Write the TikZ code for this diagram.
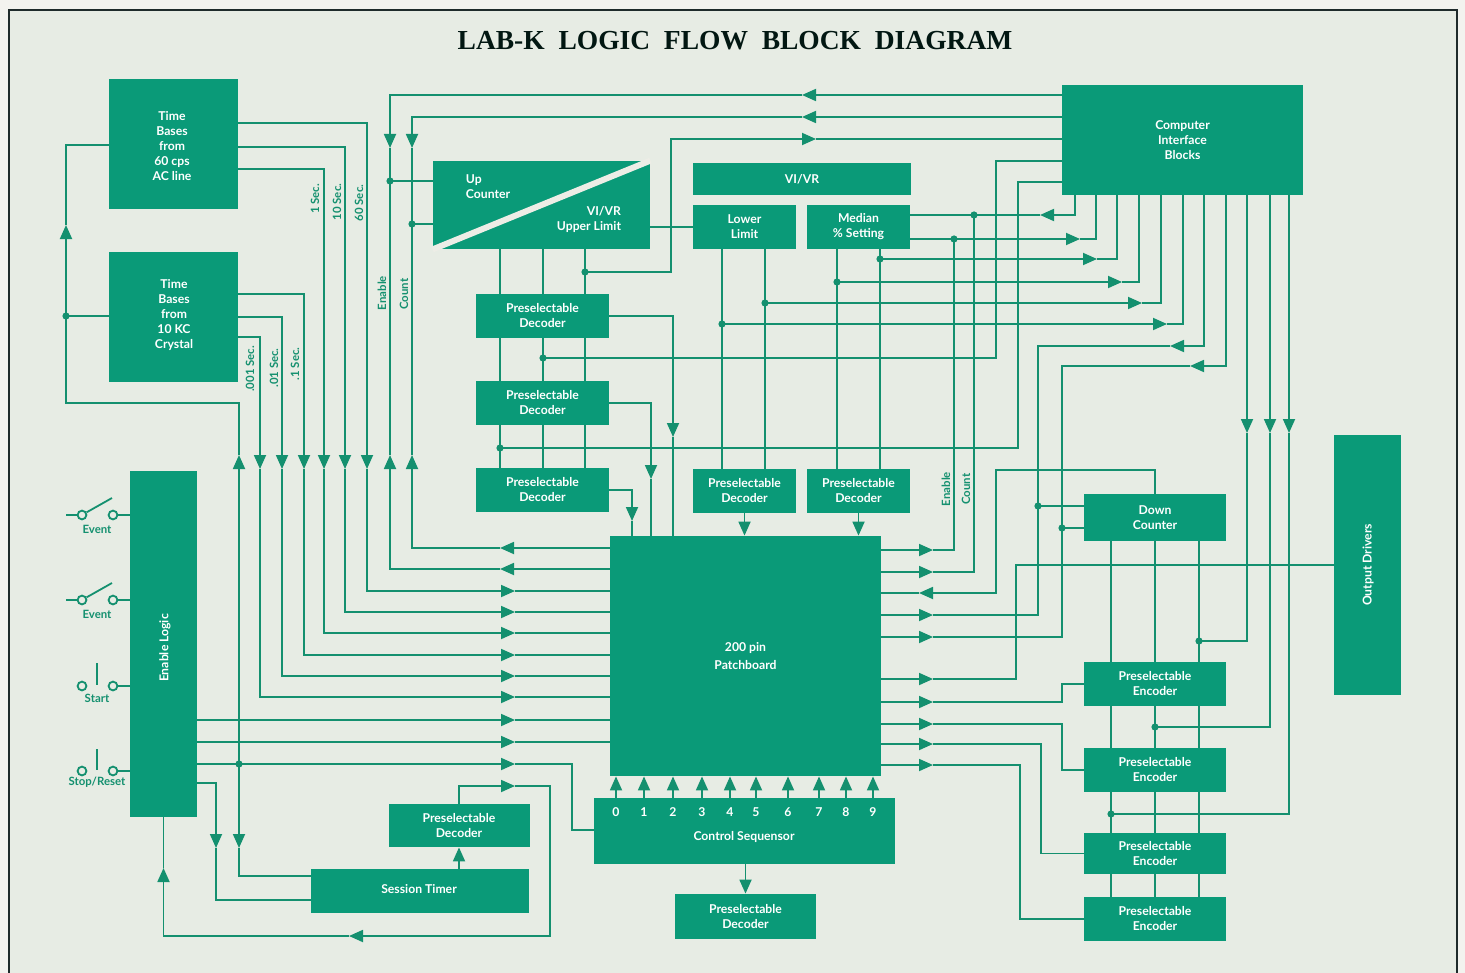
\documentclass[tikz,border=0pt]{standalone}
\usepackage{fontspec}
\usetikzlibrary{arrows.meta}
\newfontfamily\blockfont{Lato}
\newfontfamily\titlefont{Liberation Serif}
\definecolor{blockgreen}{HTML}{0A9A78}
\definecolor{wiregreen}{HTML}{14906F}
\definecolor{paper}{HTML}{E7ECE4}
\definecolor{margin}{HTML}{F3F3EF}
\definecolor{framedark}{HTML}{1F2B2B}
\definecolor{stripe}{HTML}{EDEDE6}
\tikzset{
  block/.style={fill=blockgreen, text=white, inner sep=0pt, align=center,
                font=\blockfont\bfseries\fontsize{6.1}{7.5}\selectfont},
  blocktext/.style={text=white, inner sep=0pt,
                font=\blockfont\bfseries\fontsize{6.1}{7.5}\selectfont},
  linetext/.style={text=wiregreen, inner sep=0pt, rotate=90,
                font=\blockfont\bfseries\fontsize{5.7}{6}\selectfont},
  swtext/.style={text=wiregreen, inner sep=0pt,
                font=\blockfont\bfseries\fontsize{5.7}{6}\selectfont},
  wire/.style={draw=wiregreen, line width=0.9pt},
  tipwire/.style={wire, -{Triangle[length=7pt,width=6pt]}},
  dot/.style={circle, fill=wiregreen, inner sep=0pt, minimum size=3.6pt},
  contact/.style={circle, draw=wiregreen, line width=0.9pt, inner sep=0pt, minimum size=4.4pt},
}
\begin{document}
\begin{tikzpicture}[x=0.5pt, y=-0.5pt]
    \useasboundingbox (0,0) rectangle (1465,973);
    \fill[margin] (0,0) rectangle (1465,973);
    \fill[paper] (9,10) rectangle (1457,973);
    \draw[framedark, line width=1.1pt] (9,973) -- (9,10) -- (1457,10) -- (1457,973);
    \node[text=black!85!blockgreen, inner sep=0pt, font=\titlefont\bfseries\fontsize{13.75}{16}\selectfont] (title) at (735,41) {LAB-K\ \ LOGIC\ \ FLOW\ \ BLOCK\ \ DIAGRAM};

    % blocks
    \node[block, minimum width=64.5pt, minimum height=65pt] (tbac) at (173.5,144) {};
    \node[blocktext, align=center] (tbactext) at (172,146) {Time\\Bases\\from\\60 cps\\AC line};
    \node[block, minimum width=64.5pt, minimum height=65pt] (tbxtal) at (173.5,317) {};
    \node[blocktext, align=center] (tbxtaltext) at (174,315) {Time\\Bases\\from\\10 KC\\Crystal};
    \node[block, minimum width=108.5pt, minimum height=44pt] (upctr) at (541.5,205) {};
    \draw[stripe, line width=3pt] (upctr.south west) -- (upctr.north east);
    \node[blocktext, align=left] (upctrup) at (488,187) {Up\\Counter};
    \node[blocktext, align=right] (upctrlim) at (589,219) {VI/VR\\Upper Limit};
    \node[block, minimum width=109pt, minimum height=16pt] (vivr) at (802,179) {VI/VR};
    \node[block, minimum width=51.5pt, minimum height=22pt] (lower) at (744.5,227) {Lower\\Limit};
    \node[block, minimum width=51.5pt, minimum height=22pt] (median) at (858.5,227) {Median\\\% Setting};
    \node[block, minimum width=120.5pt, minimum height=55pt] (computer) at (1182.5,140) {Computer\\Interface\\Blocks};
    \node[block, minimum width=66.5pt, minimum height=22pt] (pdA) at (542.5,316) {Preselectable\\Decoder};
    \node[block, minimum width=66.5pt, minimum height=22pt] (pdB) at (542.5,403) {Preselectable\\Decoder};
    \node[block, minimum width=66.5pt, minimum height=22pt] (pdC) at (542.5,490) {Preselectable\\Decoder};
    \node[block, minimum width=51.5pt, minimum height=22pt] (pdD) at (744.5,491) {Preselectable\\Decoder};
    \node[block, minimum width=51.5pt, minimum height=22pt] (pdE) at (858.5,491) {Preselectable\\Decoder};
    \node[block, minimum width=135.5pt, minimum height=120pt] (board) at (745.5,656) {200 pin\\[1.5pt]Patchboard};
    \node[block, minimum width=33.5pt, minimum height=173pt] (enable) at (163.5,644) {};
    \node[blocktext, rotate=90] (enabletext) at (165,648) {Enable Logic};
    \node[block, minimum width=33.5pt, minimum height=130pt] (output) at (1367.5,565) {};
    \node[blocktext, rotate=90] (outputtext) at (1368,565) {Output Drivers};
    \node[block, minimum width=71pt, minimum height=23.5pt] (down) at (1155,517.5) {Down\\Counter};
    \node[block, minimum width=71pt, minimum height=22pt] (encA) at (1155,684) {Preselectable\\Encoder};
    \node[block, minimum width=71pt, minimum height=22pt] (encB) at (1155,770) {Preselectable\\Encoder};
    \node[block, minimum width=71pt, minimum height=20.5pt] (encC) at (1155,853.5) {Preselectable\\Encoder};
    \node[block, minimum width=71pt, minimum height=22pt] (encD) at (1155,919) {Preselectable\\Encoder};
    \node[block, minimum width=150.5pt, minimum height=33pt] (seq) at (744.5,831) {};
    \node[blocktext] (seqtext) at (744,837) {Control Sequensor};
    \node[block, minimum width=70.5pt, minimum height=22.5pt] (pdF) at (745.5,916.5) {Preselectable\\Decoder};
    \node[block, minimum width=109pt, minimum height=22pt] (session) at (420,891) {};
    \node[blocktext] (sessiontext) at (419,889) {Session Timer};
    \node[block, minimum width=70.5pt, minimum height=21.5pt] (pdG) at (459,825.5) {Preselectable\\Decoder};

    % digits of the sequencer
    \node[blocktext] (dZero) at (616,812) {0};
    \node[blocktext] (dOne) at (644,812) {1};
    \node[blocktext] (dTwo) at (673,812) {2};
    \node[blocktext] (dThree) at (702,812) {3};
    \node[blocktext] (dFour) at (730,812) {4};
    \node[blocktext] (dFive) at (756,812) {5};
    \node[blocktext] (dSix) at (788,812) {6};
    \node[blocktext] (dSeven) at (819,812) {7};
    \node[blocktext] (dEight) at (846,812) {8};
    \node[blocktext] (dNine) at (873,812) {9};
    \draw[tipwire] (seq.north -| dZero) -- (board.south -| dZero);
    \draw[tipwire] (seq.north -| dOne) -- (board.south -| dOne);
    \draw[tipwire] (seq.north -| dTwo) -- (board.south -| dTwo);
    \draw[tipwire] (seq.north -| dThree) -- (board.south -| dThree);
    \draw[tipwire] (seq.north -| dFour) -- (board.south -| dFour);
    \draw[tipwire] (seq.north -| dFive) -- (board.south -| dFive);
    \draw[tipwire] (seq.north -| dSix) -- (board.south -| dSix);
    \draw[tipwire] (seq.north -| dSeven) -- (board.south -| dSeven);
    \draw[tipwire] (seq.north -| dEight) -- (board.south -| dEight);
    \draw[tipwire] (seq.north -| dNine) -- (board.south -| dNine);
    \draw[tipwire] (seq.south -| pdF.north) -- (pdF.north);

    % junctions
    \node[dot] (jXtal) at (66,316) {};
    \node[dot] (jLogic) at (239,764) {};
    \node[dot] (jEnable) at (390,181) {};
    \node[dot] (jCount) at (412,224) {};
    \node[dot] (jUpper) at (585,272) {};
    \node[dot] (jMid) at (543,358) {};
    \node[dot] (jLow) at (500,448) {};
    \node[dot] (jMedA) at (974,215) {};
    \node[dot] (jMedB) at (954,239) {};
    \node[dot] (jMedC) at (880,259) {};
    \node[dot] (jMedD) at (837,282) {};
    \node[dot] (jLimA) at (765,303) {};
    \node[dot] (jLimB) at (722,324) {};
    \node[dot] (jDownA) at (1038,506) {};
    \node[dot] (jDownB) at (1062,528) {};
    \node[dot] (jEncA) at (1199,641) {};
    \node[dot] (jEncB) at (1155,727) {};
    \node[dot] (jEncC) at (1111,814) {};

    % arrow points, left of the patchboard
    \coordinate (ltBoardA) at (500,548);
    \coordinate (ltBoardB) at (500,569);
    \coordinate (inSix) at (515,591);
    \coordinate (inTen) at (515,612);
    \coordinate (inOne) at (515,633);
    \coordinate (inTenth) at (515,655);
    \coordinate (inHund) at (515,676);
    \coordinate (inThou) at (515,697);
    \coordinate (inLogicA) at (515,720);
    \coordinate (inLogicB) at (515,742);
    \coordinate (inLogicC) at (515,764);
    \coordinate (inTimer) at (515,786);
    % arrow points, row above the patchboard
    \coordinate (upLoop) at (239,455);
    \coordinate (dnThou) at (260,469);
    \coordinate (dnHund) at (282,469);
    \coordinate (dnTenth) at (304,469);
    \coordinate (dnOne) at (324,469);
    \coordinate (dnTen) at (345,469);
    \coordinate (dnSix) at (367,469);
    \coordinate (upEnable) at (390,455);
    \coordinate (upCount) at (412,455);
    \coordinate (dnEnable) at (390,148);
    \coordinate (dnCount) at (412,148);

    % time bases to patchboard
    \draw[tipwire] (tbac.east |- 0,123) -| (dnSix);
    \draw[tipwire] (dnSix) |- (inSix);
    \draw[wire] (inSix) -- (board.west |- inSix);
    \draw[tipwire] (tbac.east |- 0,147) -| (dnTen);
    \draw[tipwire] (dnTen) |- (inTen);
    \draw[wire] (inTen) -- (board.west |- inTen);
    \draw[tipwire] (tbac.east |- 0,169) -| (dnOne);
    \draw[tipwire] (dnOne) |- (inOne);
    \draw[wire] (inOne) -- (board.west |- inOne);
    \draw[tipwire] (tbxtal.east |- 0,294) -| (dnTenth);
    \draw[tipwire] (dnTenth) |- (inTenth);
    \draw[wire] (inTenth) -- (board.west |- inTenth);
    \draw[tipwire] (tbxtal.east |- 0,317) -| (dnHund);
    \draw[tipwire] (dnHund) |- (inHund);
    \draw[wire] (inHund) -- (board.west |- inHund);
    \draw[tipwire] (tbxtal.east |- 0,337) -| (dnThou);
    \draw[tipwire] (dnThou) |- (inThou);
    \draw[wire] (inThou) -- (board.west |- inThou);

    % enable and count up the left side
    \draw[tipwire] (board.west |- ltBoardA) -- (ltBoardA);
    \draw[tipwire] (ltBoardA) -| (upCount);
    \draw[wire] (upCount) -- (dnCount);
    \draw[tipwire] (board.west |- ltBoardB) -- (ltBoardB);
    \draw[tipwire] (ltBoardB) -| (upEnable);
    \draw[wire] (upEnable) -- (dnEnable);
    \draw[wire] (jEnable.center) -- (upctr.west |- jEnable);
    \draw[wire] (jCount.center) -- (upctr.west |- jCount);
    \coordinate (ltEnable) at (802,95);
    \coordinate (ltCount) at (802,117);
    \coordinate (rtUpper) at (816,139);
    \draw[tipwire] (computer.west |- ltEnable) -- (ltEnable);
    \draw[tipwire] (ltEnable) -| (dnEnable);
    \draw[tipwire] (computer.west |- ltCount) -- (ltCount);
    \draw[tipwire] (ltCount) -| (dnCount);
    \draw[tipwire] (jUpper.center) -- (671,272) |- (rtUpper);
    \draw[wire] (rtUpper) -- (computer.west |- rtUpper);
    \draw[wire] (jMid.center) -- (996,358) |- (computer.west |- 0,161);
    \draw[wire] (jLow.center) -- (1018,448) |- (computer.west |- 0,182);

    % enable logic
    \coordinate (upLeft) at (66,225);
    \coordinate (dnTimer) at (239,848);
    \coordinate (dnLogic) at (216,848);
    \coordinate (ltLoop) at (349,936);
    \coordinate (upLogic) at (163.5,868);
    \draw[tipwire] (jLogic.center) -- (upLoop);
    \draw[tipwire] (upLoop) -- (239,403) -- (66,403) -- (upLeft);
    \draw[wire] (upLeft) |- (tbac.west |- 0,145);
    \draw[wire] (tbxtal.west |- jXtal) -- (jXtal.center);
    \draw[tipwire] (jLogic.center) -- (dnTimer);
    \draw[wire] (dnTimer) |- (session.west |- 0,876);
    \draw[tipwire] (enable.east |- 0,783) -| (dnLogic);
    \draw[wire] (dnLogic) |- (session.west |- 0,900);
    \draw[tipwire] (enable.east |- inLogicA) -- (inLogicA);
    \draw[wire] (inLogicA) -- (board.west |- inLogicA);
    \draw[tipwire] (enable.east |- inLogicB) -- (inLogicB);
    \draw[wire] (inLogicB) -- (board.west |- inLogicB);
    \draw[wire] (enable.east |- jLogic) -- (jLogic.center);
    \draw[tipwire] (jLogic.center) -- (inLogicC);
    \draw[wire] (inLogicC) -- (572,764) |- (seq.west |- 0,830);
    \draw[tipwire] (pdG.north) |- (inTimer);
    \draw[tipwire] (inTimer) -- (550,786) |- (ltLoop);
    \draw[tipwire] (ltLoop) -| (upLogic);
    \draw[wire] (upLogic) -- (enable.south);
    \draw[tipwire] (session.north -| pdG.south) -- (pdG.south);

    % up counter and decoder chain
    \draw[wire] (upctr.south -| 500,0) -- (pdA.north -| 500,0) (pdA.south -| 500,0) -- (pdB.north -| 500,0) (pdB.south -| 500,0) -- (pdC.north -| 500,0);
    \draw[wire] (upctr.south -| 543,0) -- (pdA.north -| 543,0) (pdA.south -| 543,0) -- (pdB.north -| 543,0) (pdB.south -| 543,0) -- (pdC.north -| 543,0);
    \draw[wire] (upctr.south -| 585,0) -- (pdA.north -| 585,0) (pdA.south -| 585,0) -- (pdB.north -| 585,0) (pdB.south -| 585,0) -- (pdC.north -| 585,0);
    \draw[wire] (upctr.east |- lower.center) -- (lower.west);
    \coordinate (dnDecA) at (673,437);
    \coordinate (dnDecB) at (651,479);
    \coordinate (dnDecC) at (632,521);
    \draw[tipwire] (pdA.east) -| (dnDecA);
    \draw[wire] (dnDecA) -- (board.north -| dnDecA);
    \draw[tipwire] (pdB.east) -| (dnDecB);
    \draw[wire] (dnDecB) -- (board.north -| dnDecB);
    \draw[tipwire] (pdC.east) -| (dnDecC);
    \draw[wire] (dnDecC) -- (board.north -| dnDecC);

    % limits to their decoders
    \draw[wire] (lower.south -| jLimB) -- (pdD.north -| jLimB);
    \draw[wire] (lower.south -| jLimA) -- (pdD.north -| jLimA);
    \draw[wire] (median.south -| jMedD) -- (pdE.north -| jMedD);
    \draw[wire] (median.south -| jMedC) -- (pdE.north -| jMedC);
    \draw[tipwire] (pdD.south) -- (board.north -| pdD.south);
    \draw[tipwire] (pdE.south) -- (board.north -| pdE.south);

    % computer interface, right side
    \coordinate (ltMedA) at (1040,215);
    \coordinate (rtMedB) at (1080,239);
    \coordinate (rtMedC) at (1097,259);
    \coordinate (rtMedD) at (1122,282);
    \coordinate (rtLimA) at (1142,303);
    \coordinate (rtLimB) at (1167,324);
    \coordinate (ltDownA) at (1170,346);
    \coordinate (ltDownB) at (1190,366);
    \draw[tipwire] (computer.south -| 1075,0) |- (ltMedA);
    \draw[wire] (ltMedA) -- (median.east |- ltMedA);
    \draw[wire] (computer.south -| 1096,0) |- (rtMedB);
    \draw[tipwire] (median.east |- rtMedB) -- (rtMedB);
    \draw[wire] (computer.south -| 1117,0) |- (rtMedC);
    \draw[tipwire] (jMedC.center) -- (rtMedC);
    \draw[wire] (computer.south -| 1139,0) |- (rtMedD);
    \draw[tipwire] (jMedD.center) -- (rtMedD);
    \draw[wire] (computer.south -| 1161,0) |- (rtLimA);
    \draw[tipwire] (jLimA.center) -- (rtLimA);
    \draw[wire] (computer.south -| 1183,0) |- (rtLimB);
    \draw[tipwire] (jLimB.center) -- (rtLimB);
    \draw[tipwire] (computer.south -| 1204,0) |- (ltDownA);
    \draw[tipwire] (computer.south -| 1226,0) |- (ltDownB);

    % arrow points, right of the patchboard
    \coordinate (rtEnable) at (933,550);
    \coordinate (rtCount) at (933,572);
    \coordinate (ltDown) at (919,593);
    \coordinate (rtDownA) at (933,615);
    \coordinate (rtDownB) at (933,637);
    \coordinate (rtOut) at (933,679);
    \coordinate (rtEncA) at (933,702);
    \coordinate (rtEncB) at (933,724);
    \coordinate (rtEncC) at (933,744);
    \coordinate (rtEncD) at (933,765);

    \draw[tipwire] (board.east |- rtEnable) -- (rtEnable);
    \draw[wire] (rtEnable) -| (jMedB.center);
    \draw[tipwire] (board.east |- rtCount) -- (rtCount);
    \draw[wire] (rtCount) -| (jMedA.center);
    \draw[tipwire] (down.north) -- (1155,470) -- (996,470) |- (ltDown);
    \draw[wire] (ltDown) -- (board.east |- ltDown);
    \draw[tipwire] (board.east |- rtDownA) -- (rtDownA);
    \draw[wire] (rtDownA) -| (jDownA.center) |- (ltDownA);
    \draw[wire] (jDownA.center) -- (down.west |- jDownA);
    \draw[tipwire] (board.east |- rtDownB) -- (rtDownB);
    \draw[wire] (rtDownB) -| (jDownB.center) |- (ltDownB);
    \draw[wire] (jDownB.center) -- (down.west |- jDownB);
    \draw[wire] (output.west |- 0,565) -- (1016,565) |- (rtOut);
    \draw[tipwire] (board.east |- rtOut) -- (rtOut);
    \draw[tipwire] (board.east |- rtEncA) -- (rtEncA);
    \draw[wire] (rtEncA) -- (1062,702) |- (encA.west);
    \draw[tipwire] (board.east |- rtEncB) -- (rtEncB);
    \draw[wire] (rtEncB) -- (1062,724) |- (encB.west);
    \draw[tipwire] (board.east |- rtEncC) -- (rtEncC);
    \draw[wire] (rtEncC) -- (1041,744) |- (encC.west);
    \draw[tipwire] (board.east |- rtEncD) -- (rtEncD);
    \draw[wire] (rtEncD) -- (1020,765) |- (encD.west);

    % down counter and encoder chain
    \draw[wire] (down.south -| 1111,0) -- (encA.north -| 1111,0) (encA.south -| 1111,0) -- (encB.north -| 1111,0) (encB.south -| 1111,0) -- (encC.north -| 1111,0) (encC.south -| 1111,0) -- (encD.north -| 1111,0);
    \draw[wire] (down.south) -- (encA.north) (encA.south) -- (encB.north) (encB.south) -- (encC.north) (encC.south) -- (encD.north);
    \draw[wire] (down.south -| 1199,0) -- (encA.north -| 1199,0) (encA.south -| 1199,0) -- (encB.north -| 1199,0) (encB.south -| 1199,0) -- (encC.north -| 1199,0) (encC.south -| 1199,0) -- (encD.north -| 1199,0);
    \coordinate (dnEncA) at (1247,433);
    \coordinate (dnEncB) at (1270,433);
    \coordinate (dnEncC) at (1289,433);
    \draw[tipwire] (computer.south -| dnEncA) -- (dnEncA);
    \draw[wire] (dnEncA) |- (jEncA.center);
    \draw[tipwire] (computer.south -| dnEncB) -- (dnEncB);
    \draw[wire] (dnEncB) |- (jEncB.center);
    \draw[tipwire] (computer.south -| dnEncC) -- (dnEncC);
    \draw[wire] (dnEncC) |- (jEncC.center);

    % line labels
    \node[linetext] (lblOne) at (315,199) {1 Sec.};
    \node[linetext] (lblTen) at (337,202) {10 Sec.};
    \node[linetext] (lblSix) at (359,203) {60 Sec.};
    \node[linetext] (lblThou) at (250,369) {.001 Sec.};
    \node[linetext] (lblHund) at (274,368) {.01 Sec.};
    \node[linetext] (lblTenth) at (295,364) {.1 Sec.};
    \node[linetext] (lblEnable) at (382,293) {Enable};
    \node[linetext] (lblCount) at (404,294) {Count};
    \node[linetext] (lblEnableB) at (946,489) {Enable};
    \node[linetext] (lblCountB) at (966,489) {Count};

    % switches
    \node[contact] (swAa) at (82,515) {};
    \node[contact] (swAb) at (113,515) {};
    \coordinate (leadA) at (66,515);
    \coordinate (armA) at (112,498);
    \draw[wire] (leadA) -- (swAa);
    \draw[wire] (swAb) -- (enable.west |- swAb);
    \draw[wire] (swAa.30) -- (armA);
    \node[swtext] (swAtext) at (97,529) {Event};
    \node[contact] (swBa) at (82,600) {};
    \node[contact] (swBb) at (113,600) {};
    \coordinate (leadB) at (66,600);
    \coordinate (armB) at (112,583);
    \draw[wire] (leadB) -- (swBa);
    \draw[wire] (swBb) -- (enable.west |- swBb);
    \draw[wire] (swBa.30) -- (armB);
    \node[swtext] (swBtext) at (97,614) {Event};
    \node[contact] (swCa) at (82,686) {};
    \node[contact] (swCb) at (113,686) {};
    \coordinate (barCa) at (97,663);
    \coordinate (barCb) at (97,685);
    \draw[wire] (swCb) -- (enable.west |- swCb);
    \draw[wire] (barCa) -- (barCb);
    \node[swtext] (swCtext) at (97,698) {Start};
    \node[contact] (swDa) at (82,771) {};
    \node[contact] (swDb) at (113,771) {};
    \coordinate (barDa) at (97,749);
    \coordinate (barDb) at (97,770);
    \draw[wire] (swDb) -- (enable.west |- swDb);
    \draw[wire] (barDa) -- (barDb);
    \node[swtext] (swDtext) at (97,782) {Stop/Reset};
  \end{tikzpicture}
\end{document}
